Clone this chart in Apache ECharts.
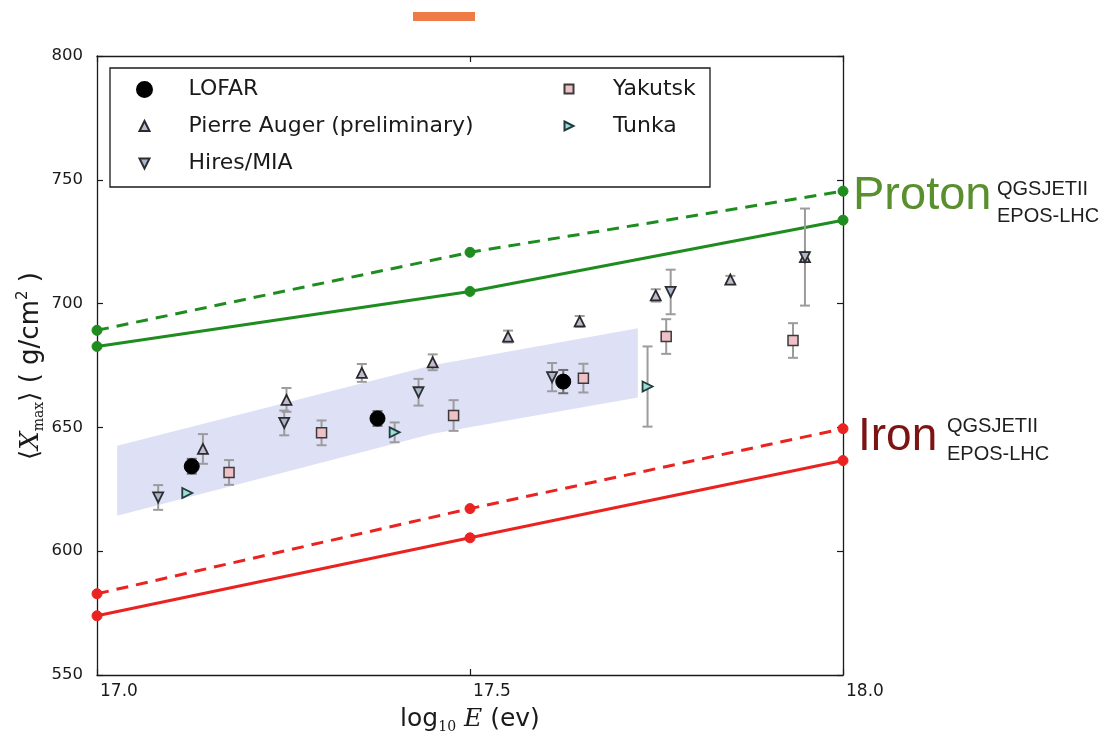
<!DOCTYPE html>
<html>
<head>
<meta charset="utf-8">
<script src="https://cdn.jsdelivr.net/npm/echarts@6/dist/echarts.min.js"></script>
<style>
  html, body { margin: 0; padding: 0; background: #ffffff; }
  #chart { width: 1107px; height: 742px; }
</style>
</head>
<body>
<div id="chart"></div>
<script>
// Axis ticks
const xTicks = [17.0, 17.5, 18.0];
const yTicks = [550, 600, 650, 700, 750, 800];

// Simulated <Xmax> for pure proton / iron primaries
const modelE = [17.0, 17.5, 18.0];
const protonQGS = [689.2, 720.7, 745.4];
const protonEPOS = [682.7, 704.9, 733.7];
const ironQGS = [582.8, 617.2, 649.5];
const ironEPOS = [573.9, 605.4, 636.6];

// LOFAR systematic band (lower / upper edge)
const bandE = [17.027, 17.45, 17.725];
const bandLow = [614.3, 647.4, 662.1];
const bandHigh = [642.6, 675.1, 690.0];

// Measurements: energy, <Xmax>, uncertainty
const lofarE = [17.127, 17.376, 17.625];
const lofarX = [634.3, 653.6, 668.5];
const lofarErr = [3.0, 3.0, 4.7];

const augerE = [17.142, 17.254, 17.355, 17.450, 17.551, 17.647, 17.749, 17.849, 17.949];
const augerX = [641.3, 661.1, 672.0, 676.3, 686.7, 692.8, 703.3, 709.7, 718.8];
const augerErr = [6.0, 4.8, 3.6, 3.2, 2.4, 2.2, 2.5, 1.5, 2.0];

const hiresE = [17.082, 17.251, 17.431, 17.610, 17.769, 17.949];
const hiresX = [621.7, 651.8, 664.2, 670.3, 704.7, 718.8];
const hiresErr = [5.0, 5.0, 5.4, 5.7, 9.0, 19.6];

const yakutskE = [17.177, 17.301, 17.478, 17.652, 17.763, 17.933];
const yakutskX = [631.8, 647.8, 654.8, 669.9, 686.7, 685.1];
const yakutskErr = [5.0, 5.0, 6.2, 5.8, 7.0, 7.0];

const tunkaE = [17.121, 17.399, 17.738];
const tunkaX = [623.5, 648.0, 666.5];
const tunkaErr = [0, 4.0, 16.2];

const FONT = 'DejaVu Sans';
const GREEN = '#1f8c1f';
const RED = '#ea2320';

// Marker outlines
const TRI_DOWN = 'path://M0,0 L10,0 L5,10 Z';
const TRI_RIGHT = 'path://M0,0 L10,5 L0,10 Z';

function pairs(E, V) {
  return E.map((e, i) => [e, V[i]]);
}

function errorBars(name, E, V, err, color) {
  return {
    type: 'custom',
    name: name + ' error',
    z: 3,
    silent: true,
    encode: { x: 0, y: [1, 2] },
    data: E.map((e, i) => [e, V[i] - err[i], V[i] + err[i]]),
    renderItem(params, api) {
      const x = api.value(0);
      const lo = api.coord([x, api.value(1)]);
      const hi = api.coord([x, api.value(2)]);
      if (Math.abs(hi[1] - lo[1]) < 1) return null;
      const w = 5;
      const st = { stroke: color, lineWidth: 2 };
      return {
        type: 'group',
        children: [
          { type: 'line', shape: { x1: lo[0], y1: lo[1], x2: hi[0], y2: hi[1] }, style: st },
          { type: 'line', shape: { x1: lo[0] - w, y1: lo[1], x2: lo[0] + w, y2: lo[1] }, style: st },
          { type: 'line', shape: { x1: hi[0] - w, y1: hi[1], x2: hi[0] + w, y2: hi[1] }, style: st }
        ]
      };
    }
  };
}

function model(name, V, color, dashed) {
  return {
    type: 'line',
    name: name,
    z: 2,
    data: pairs(modelE, V),
    symbol: 'circle',
    symbolSize: 10,
    showSymbol: true,
    itemStyle: { color: color, borderColor: color, borderWidth: 1 },
    lineStyle: { color: color, width: 3, type: dashed ? [12, 8] : 'solid' },
    silent: true,
    animation: false
  };
}

function points(name, E, V, opts) {
  return Object.assign({
    type: 'scatter',
    name: name,
    z: 4,
    data: pairs(E, V),
    animation: false
  }, opts);
}

// One legend block per entry: icon centred at cx, label starting 44px to its right
function legendItem(name, cx, cy, size, icon) {
  const item = { name: name };
  if (icon) item.icon = icon;
  return {
    data: [item],
    orient: 'vertical',
    left: cx - size / 2,
    top: cy - 12,
    padding: 0,
    itemWidth: size,
    itemHeight: size,
    itemGap: 0,
    symbolKeepAspect: true,
    selectedMode: false,
    textStyle: {
      fontFamily: FONT, fontSize: 22, color: '#1a1a1a', lineHeight: 24,
      padding: [0, 0, 0, 44 - size / 2 - 5]
    }
  };
}

const chart = echarts.init(document.getElementById('chart'), null, { renderer: 'canvas' });

const axisLineStyle = { lineStyle: { color: '#1a1a1a', width: 1.3 } };
const tickStyle = { show: true, inside: true, length: 6, lineStyle: { color: '#1a1a1a', width: 1.2 } };

const option = {
  backgroundColor: '#ffffff',
  animation: false,
  grid: { left: 97, right: 264, top: 56, bottom: 67, containLabel: false, outerBoundsMode: 'none' },
  xAxis: [
    {
      type: 'value', position: 'bottom',
      min: xTicks[0], max: xTicks[xTicks.length - 1], interval: xTicks[1] - xTicks[0],
      axisLine: axisLineStyle, axisTick: tickStyle, splitLine: { show: false },
      axisLabel: {
        fontFamily: FONT, fontSize: 17, color: '#1a1a1a', margin: 8, align: 'left',
        padding: [0, 0, 0, 3],
        formatter: v => v.toFixed(1)
      }
    },
    {
      type: 'value', position: 'top',
      min: xTicks[0], max: xTicks[xTicks.length - 1], interval: xTicks[1] - xTicks[0],
      axisLine: axisLineStyle, axisTick: tickStyle, splitLine: { show: false },
      axisLabel: { show: false }
    }
  ],
  yAxis: [
    {
      type: 'value', position: 'left',
      min: yTicks[0], max: yTicks[yTicks.length - 1], interval: yTicks[1] - yTicks[0],
      axisLine: axisLineStyle, axisTick: tickStyle, splitLine: { show: false },
      axisLabel: { fontFamily: FONT, fontSize: 16.5, color: '#1a1a1a', margin: 14 }
    },
    {
      type: 'value', position: 'right',
      min: yTicks[0], max: yTicks[yTicks.length - 1], interval: yTicks[1] - yTicks[0],
      axisLine: axisLineStyle, axisTick: tickStyle, splitLine: { show: false },
      axisLabel: { show: false }
    }
  ],
  legend: [
    legendItem('LOFAR', 143.5, 89.5, 15),
    legendItem('Pierre Auger (preliminary)', 143.5, 126, 10),
    legendItem('Hires/MIA', 143.5, 163.5, 10, TRI_DOWN),
    legendItem('Yakutsk', 568, 89, 9),
    legendItem('Tunka', 568, 126, 9, TRI_RIGHT)
  ],
  series: [
    {
      type: 'custom',
      name: 'LOFAR band',
      z: 1,
      silent: true,
      data: [[bandE[0], bandLow[0]]],
      renderItem(params, api) {
        const pts = [];
        for (let i = 0; i < bandE.length; i++) pts.push(api.coord([bandE[i], bandHigh[i]]));
        for (let i = bandE.length - 1; i >= 0; i--) pts.push(api.coord([bandE[i], bandLow[i]]));
        return { type: 'polygon', shape: { points: pts }, style: { fill: '#dee0f6', stroke: 'none' } };
      }
    },
    model('Proton QGSJETII', protonQGS, GREEN, true),
    model('Proton EPOS-LHC', protonEPOS, GREEN, false),
    model('Iron QGSJETII', ironQGS, RED, true),
    model('Iron EPOS-LHC', ironEPOS, RED, false),

    errorBars('LOFAR', lofarE, lofarX, lofarErr, '#6e6e6e'),
    errorBars('Pierre Auger (preliminary)', augerE, augerX, augerErr, '#9c9c9c'),
    errorBars('Hires/MIA', hiresE, hiresX, hiresErr, '#9c9c9c'),
    errorBars('Yakutsk', yakutskE, yakutskX, yakutskErr, '#9c9c9c'),
    errorBars('Tunka', tunkaE, tunkaX, tunkaErr, '#9c9c9c'),

    points('LOFAR', lofarE, lofarX, {
      symbol: 'circle', symbolSize: 15,
      itemStyle: { color: '#000000', borderColor: '#000000', borderWidth: 1, opacity: 1 }
    }),
    points('Pierre Auger (preliminary)', augerE, augerX, {
      symbol: 'triangle', symbolSize: 10,
      itemStyle: { color: '#c3b9d2', borderColor: '#2a2a2a', borderWidth: 1.8, opacity: 1 }
    }),
    points('Hires/MIA', hiresE, hiresX, {
      symbol: TRI_DOWN, symbolSize: 10,
      itemStyle: { color: '#a9b7cf', borderColor: '#2e2e2e', borderWidth: 1.8, opacity: 1 }
    }),
    points('Yakutsk', yakutskE, yakutskX, {
      symbol: 'rect', symbolSize: 10,
      itemStyle: { color: '#f0c0c9', borderColor: '#3a3a3a', borderWidth: 1.5, opacity: 1 }
    }),
    points('Tunka', tunkaE, tunkaX, {
      symbol: TRI_RIGHT, symbolSize: 10,
      itemStyle: { color: '#9edcd4', borderColor: '#1f3d3d', borderWidth: 1.8, opacity: 1 }
    })
  ],
  graphic: [
    // header accent bar
    { type: 'rect', shape: { x: 413, y: 12, width: 62, height: 9 }, style: { fill: '#ee7a45' }, silent: true },
    // legend frame
    { type: 'rect', z: 3, shape: { x: 110, y: 68, width: 600, height: 119 },
      style: { fill: 'transparent', stroke: '#1a1a1a', lineWidth: 1.3 }, silent: true },
    // y-axis title
    {
      type: 'text', x: 31, y: 366, rotation: Math.PI / 2, silent: true,
      style: {
        text: '⟨{it|X}{sub|max}⟩ ( g/cm{sup|2} )',
        fontFamily: FONT, fontSize: 26, fill: '#1a1a1a', lineHeight: 30,
        align: 'center', verticalAlign: 'middle',
        rich: {
          it: { fontFamily: 'DejaVu Serif', fontStyle: 'italic', fontSize: 26, lineHeight: 30, fill: '#1a1a1a' },
          sub: { fontFamily: 'DejaVu Serif', fontSize: 14, lineHeight: 14, verticalAlign: 'bottom', fill: '#1a1a1a' },
          sup: { fontFamily: FONT, fontSize: 15, lineHeight: 14, verticalAlign: 'top', fill: '#1a1a1a' }
        }
      }
    },
    // x-axis title
    {
      type: 'text', x: 470, y: 719, silent: true,
      style: {
        text: 'log{sub|10} {it|E} (ev)',
        fontFamily: FONT, fontSize: 25, fill: '#1a1a1a', lineHeight: 30,
        align: 'center', verticalAlign: 'middle',
        rich: {
          it: { fontFamily: 'DejaVu Serif', fontStyle: 'italic', fontSize: 25, lineHeight: 30, fill: '#1a1a1a' },
          sub: { fontFamily: 'DejaVu Serif', fontSize: 14, lineHeight: 14, verticalAlign: 'bottom', fill: '#1a1a1a' }
        }
      }
    },
    // model annotations
    { type: 'text', x: 853, y: 196, silent: true,
      style: { text: 'Proton', fontFamily: 'Liberation Sans', fontSize: 47, fill: '#5a8f2e', align: 'left', verticalAlign: 'middle' } },
    { type: 'text', x: 997, y: 189, silent: true,
      style: { text: 'QGSJETII', fontFamily: 'Liberation Sans', fontSize: 20, fill: '#1f1f1f', align: 'left', verticalAlign: 'middle' } },
    { type: 'text', x: 997, y: 216, silent: true,
      style: { text: 'EPOS-LHC', fontFamily: 'Liberation Sans', fontSize: 20, fill: '#1f1f1f', align: 'left', verticalAlign: 'middle' } },
    { type: 'text', x: 858, y: 437, silent: true,
      style: { text: 'Iron', fontFamily: 'Liberation Sans', fontSize: 46, fill: '#7d1414', align: 'left', verticalAlign: 'middle' } },
    { type: 'text', x: 947, y: 426, silent: true,
      style: { text: 'QGSJETII', fontFamily: 'Liberation Sans', fontSize: 20, fill: '#1f1f1f', align: 'left', verticalAlign: 'middle' } },
    { type: 'text', x: 947, y: 454, silent: true,
      style: { text: 'EPOS-LHC', fontFamily: 'Liberation Sans', fontSize: 20, fill: '#1f1f1f', align: 'left', verticalAlign: 'middle' } }
  ]
};

chart.setOption(option);
</script>
</body>
</html>
